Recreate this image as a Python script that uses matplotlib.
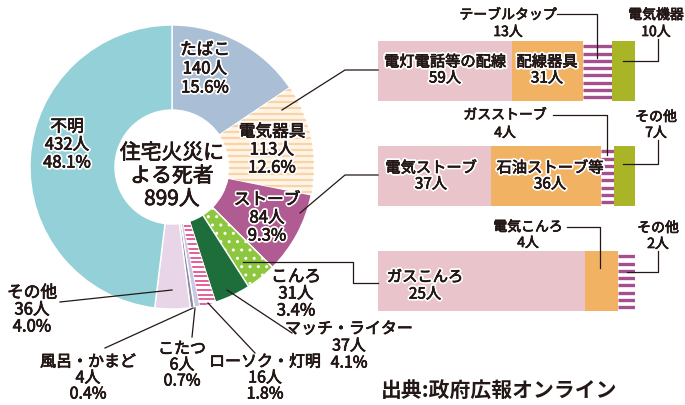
import matplotlib
matplotlib.use('Agg')
import numpy as np
import matplotlib.pyplot as plt
import matplotlib.patheffects as pe
from matplotlib.collections import LineCollection

plt.rcParams['font.family'] = ['Noto Sans CJK JP', 'DejaVu Sans']

# ---- data -------------------------------------------------------------
causes = ['たばこ', '電気器具', 'ストーブ', 'こんろ', 'マッチ・ライター',
          'ローソク・灯明', 'こたつ', '風呂・かまど', 'その他', '不明']
deaths = [140, 113, 84, 31, 37, 16, 6, 4, 36, 432]
shares = [15.6, 12.6, 9.3, 3.4, 4.1, 1.8, 0.7, 0.4, 4.0, 48.1]
total_deaths = 899

elecItems = ['電灯電話等の配線', '配線器具', 'テーブルタップ', '電気機器']
elecDeaths = [59, 31, 13, 10]
stoveItems = ['電気ストーブ', '石油ストーブ等', 'ガスストーブ', 'その他']
stoveDeaths = [37, 36, 4, 7]
konroItems = ['ガスこんろ', '電気こんろ', 'その他']
konroDeaths = [25, 4, 2]

# ---- style ------------------------------------------------------------
W, H = 685, 405
TEXT = '#231815'
PINK, ORANGE, PURPLE, OLIVE = '#e9c4cb', '#f2b264', '#a4508e', '#a9b526'
pieColors = ['#aabfd5', '#fff4e6', '#b05c93', '#8dc63f', '#1e6e3c',
             '#ffffff', '#c9c9e6', '#8a8a9a', '#e8d6e8', '#93d0d8']
# white halo plus a hairline in the text colour to thicken the glyphs a bit
halo = [pe.withStroke(linewidth=3, foreground='white'),
        pe.withStroke(linewidth=0.5, foreground=TEXT)]

fig = plt.figure(figsize=(6.85, 4.05), dpi=100)
ax = fig.add_axes([0, 0, 1, 1])


def Y(y):
    # picture rows run downward, the axes upward
    return H - y


def _Stripes(patch, color, step, lw):
    """Horizontal stripes clipped to a patch."""
    bb = patch.get_path().get_extents(patch.get_patch_transform())
    ys = np.arange(bb.y0 + step / 2, bb.y1, step)
    segs = [[(bb.x0, y), (bb.x1, y)] for y in ys]
    lc = LineCollection(segs, colors=color, linewidths=lw,
                        zorder=patch.get_zorder() + 0.1)
    ax.add_collection(lc, autolim=False)
    lc.set_clip_path(patch)


def _Lines(x, y, lines, size=12, step=17):
    for i, line in enumerate(lines):
        ax.text(x, Y(y + i * step), line, ha='center', va='center',
                fontsize=size, color=TEXT, path_effects=halo)


def _Leader(pts):
    xs, ys = zip(*pts)
    ax.plot(xs, [Y(v) for v in ys], color=TEXT, lw=0.9, zorder=5)


# ---- donut ------------------------------------------------------------
wedges, _ = ax.pie(deaths, colors=pieColors, startangle=90, counterclock=False,
                   radius=142, center=(172, Y(167)),
                   wedgeprops=dict(width=85, edgecolor='white', linewidth=1.0))
_Stripes(wedges[1], '#f8d4a8', 6, 1.6)
_Stripes(wedges[5], '#e3609a', 4.6, 1.4)
wedges[3].set_hatch('..')

# (x, y of first line, line step, font size)
labelPos = [(205, 50, 19, 12), (272, 132, 18, 12), (267, 200, 18, 12),
            (296, 277, 17, 12), (349, 329, 17, 11.5), (265, 362, 16, 11.5),
            (182, 349, 16, 11.5), (88, 362, 16, 11.5), (32, 293, 17, 12),
            (67, 127, 18, 12)]
for name, n, pct, (lx, ly, st, fs) in zip(causes, deaths, shares, labelPos):
    _Lines(lx, ly, [name, f'{n}人', f'{pct:.1f}%'], size=fs, step=st)

_Lines(172, 153, ['住宅火災に', 'よる死者', f'{total_deaths}人'], size=15, step=23)

for pts in [[(282, 110), (345, 70), (378, 70)],
            [(300, 213), (345, 175), (378, 175)],
            [(243, 262), (353, 262), (353, 283), (378, 283)],
            [(172, 290), (60, 302)],
            [(193, 308), (105, 348)],
            [(195, 308), (192, 337)],
            [(208, 303), (255, 353)],
            [(227, 290), (292, 333)]]:
    _Leader(pts)

# ---- breakdown bars ---------------------------------------------------
BAR_X0, BAR_W, BAR_H = 378, 257, 60
breakdowns = [(elecDeaths, 71, [PINK, ORANGE, 'stripe', OLIVE]),
              (stoveDeaths, 176, [PINK, ORANGE, 'stripe', OLIVE]),
              (konroDeaths, 281, [PINK, ORANGE, 'stripe'])]
for values, cy, styles in breakdowns:
    vals = np.array(values, dtype=float)
    scale = BAR_W / vals.sum()
    lefts = np.concatenate([[0], np.cumsum(vals)[:-1]])
    faces = ['white' if s == 'stripe' else s for s in styles]
    bars = ax.barh(Y(cy), vals * scale, left=BAR_X0 + lefts * scale,
                   height=BAR_H, color=faces, linewidth=0)
    for b, s in zip(bars, styles):
        if s == 'stripe':
            _Stripes(b, PURPLE, 7.3, 2.4)

# labels inside the bars
_Lines(445, 62, [elecItems[0], f'{elecDeaths[0]}人'], size=11, step=16)
_Lines(547, 62, [elecItems[1], f'{elecDeaths[1]}人'], size=11, step=16)
_Lines(431, 168, [stoveItems[0], f'{stoveDeaths[0]}人'], size=11, step=16)
_Lines(550, 168, [stoveItems[1], f'{stoveDeaths[1]}人'], size=11, step=16)
_Lines(425, 277, [konroItems[0], f'{konroDeaths[0]}人'], size=11, step=17)

# callouts above the bars
_Lines(508, 15, [elecItems[2], f'{elecDeaths[2]}人'], size=10, step=17)
_Lines(656, 15, [elecItems[3], f'{elecDeaths[3]}人'], size=10, step=17)
_Lines(505, 115, [stoveItems[2], f'{stoveDeaths[2]}人'], size=10, step=18)
_Lines(656, 117, [stoveItems[3], f'{stoveDeaths[3]}人'], size=10, step=16)
_Lines(528, 227, [konroItems[1], f'{konroDeaths[1]}人'], size=10, step=16)
_Lines(658, 228, [konroItems[2], f'{konroDeaths[2]}人'], size=10, step=16)

for pts in [[(557, 14), (597, 14), (597, 58)],
            [(658, 39), (658, 61), (623, 61)],
            [(553, 115), (607, 115), (607, 155)],
            [(658, 140), (658, 164), (623, 164)],
            [(567, 227), (600, 227), (600, 268)],
            [(658, 251), (658, 272), (627, 272)]]:
    _Leader(pts)

ax.text(499, Y(390), '出典:政府広報オンライン', ha='center', va='center',
        fontsize=15, fontweight='bold', color=TEXT)

ax.set_xlim(0, W)
ax.set_ylim(0, H)
ax.set_aspect('equal')
ax.axis('off')

fig.savefig('out.png', dpi=100)
